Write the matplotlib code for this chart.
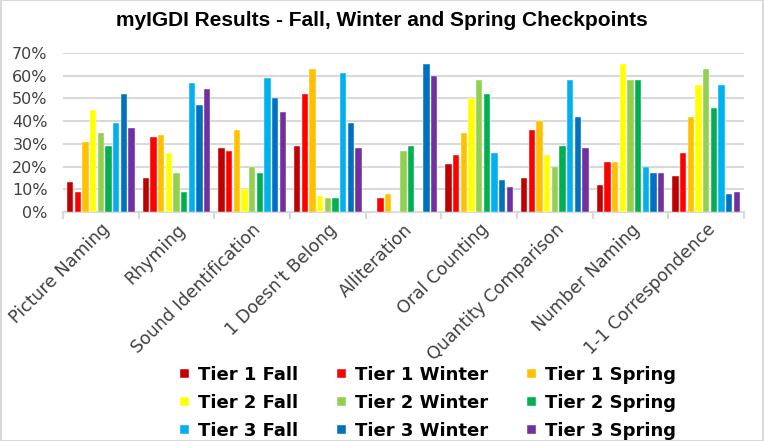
import matplotlib
matplotlib.use("Agg")
import matplotlib.pyplot as plt
import numpy as np
from matplotlib.patches import Rectangle

categories = ["Picture Naming", "Rhyming", "Sound Identification", "1 Doesn't Belong",
              "Alliteration", "Oral Counting", "Quantity Comparison", "Number Naming",
              "1-1 Correspondence"]
series_names = ["Tier 1 Fall", "Tier 1 Winter", "Tier 1 Spring",
                "Tier 2 Fall", "Tier 2 Winter", "Tier 2 Spring",
                "Tier 3 Fall", "Tier 3 Winter", "Tier 3 Spring"]
colors = ["#C00000", "#FF0000", "#FFC000", "#FFFF00", "#92D050", "#00B050",
          "#00B0F0", "#0070C0", "#7030A0"]

tier1_fall   = [0.13, 0.15, 0.28, 0.29, 0.00, 0.21, 0.15, 0.12, 0.16]
tier1_winter = [0.09, 0.33, 0.27, 0.52, 0.06, 0.25, 0.36, 0.22, 0.26]
tier1_spring = [0.31, 0.34, 0.36, 0.63, 0.08, 0.35, 0.40, 0.22, 0.42]
tier2_fall   = [0.45, 0.26, 0.10, 0.07, 0.00, 0.50, 0.25, 0.65, 0.56]
tier2_winter = [0.35, 0.17, 0.20, 0.06, 0.27, 0.58, 0.20, 0.58, 0.63]
tier2_spring = [0.29, 0.09, 0.17, 0.06, 0.29, 0.52, 0.29, 0.58, 0.46]
tier3_fall   = [0.39, 0.57, 0.59, 0.61, 0.00, 0.26, 0.58, 0.20, 0.56]
tier3_winter = [0.52, 0.47, 0.50, 0.39, 0.65, 0.14, 0.42, 0.17, 0.08]
tier3_spring = [0.37, 0.54, 0.44, 0.28, 0.60, 0.11, 0.28, 0.17, 0.09]

series = [tier1_fall, tier1_winter, tier1_spring, tier2_fall, tier2_winter,
          tier2_spring, tier3_fall, tier3_winter, tier3_spring]
yticks = [0, 0.1, 0.2, 0.3, 0.4, 0.5, 0.6, 0.7]
ytick_labels = ["0%", "10%", "20%", "30%", "40%", "50%", "60%", "70%"]

fig = plt.figure(figsize=(7.64, 4.41), dpi=100)
ax = fig.add_axes([63/764, 1-212/441, (744-63)/764, (212-53)/441])

x = np.arange(len(categories))
slot = 0.101
bw = 0.082
for i, (vals, c, name) in enumerate(zip(series, colors, series_names)):
    ax.bar(x + (i - 4) * slot, vals, width=bw, color=c, label=name,
           edgecolor="white", linewidth=0.3, zorder=3)

ax.set_xlim(-0.5, len(categories) - 0.5)
ax.set_ylim(0, 0.70)
ax.set_yticks(yticks)
ax.set_yticklabels(ytick_labels, fontsize=11.5, color="#404040", family="DejaVu Sans")
ax.tick_params(axis="y", length=0, pad=11)
ax.yaxis.grid(True, color="#D9D9D9", linewidth=1.5, zorder=0)
ax.set_axisbelow(True)
for s in ["top", "right", "left"]:
    ax.spines[s].set_visible(False)
ax.spines["bottom"].set_color("#D9D9D9")
ax.spines["bottom"].set_linewidth(1.5)

ax.set_xticks(np.arange(-0.5, len(categories), 1.0))
ax.set_xticklabels([])
ax.tick_params(axis="x", which="major", length=5, color="#D9D9D9", width=1.5)
ax.set_xticks(x, minor=True)
ax.set_xticklabels(categories, minor=True, rotation=45, ha="right",
                   rotation_mode="anchor", fontsize=12.5, color="#404040")
ax.tick_params(axis="x", which="minor", length=0, pad=6)

fig.text(0.5, 1-20/441, "myIGDI Results - Fall, Winter and Spring Checkpoints",
         ha="center", va="center", fontsize=15, fontweight="bold",
         family="Liberation Sans")

handles, labels = ax.get_legend_handles_labels()
order = [0, 3, 6, 1, 4, 7, 2, 5, 8]
leg = fig.legend([handles[i] for i in order], [labels[i] for i in order],
                 loc="center", bbox_to_anchor=(428/764, 1-403/441),
                 ncol=3, frameon=False,
                 prop={"weight": "heavy", "size": 13, "family": "DejaVu Sans"},
                 handlelength=0.45, handleheight=0.45, handletextpad=0.5,
                 columnspacing=2.2, labelspacing=0.55)

fig.patches.append(Rectangle((1/764, 0), 762/764, 1, transform=fig.transFigure,
                             fill=False, edgecolor="#D9D9D9", linewidth=1.5))

fig.savefig("out.png", dpi=100)
